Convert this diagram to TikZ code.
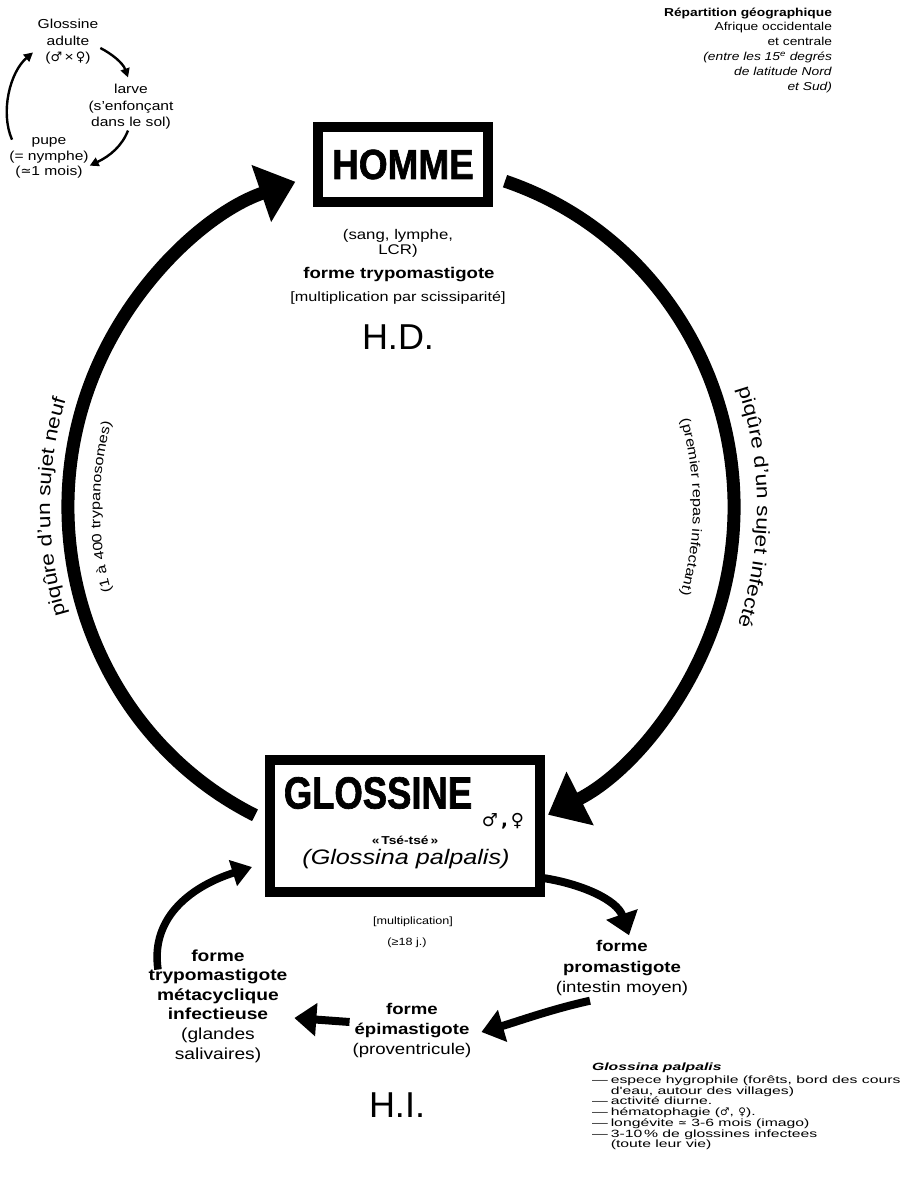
\documentclass[tikz,border=0pt]{standalone}
\usepackage{fontspec}
\usepackage{graphicx}
\setmainfont{Liberation Sans}[FakeStretch=1.2]
\newfontfamily\plainsans{Liberation Sans}
\newfontfamily\heavyfont{Liberation Sans}[FakeBold=1.5,FakeStretch=0.88]
\newfontfamily\listfont{Liberation Sans}[FakeStretch=1.5]
\newfontfamily\symfont{DejaVu Sans}
\usetikzlibrary{arrows.meta,decorations.text,calc}
\newcommand{\fsz}[2]{\fontsize{#1}{#2}\selectfont}
\tikzset{
  every node/.style={inner sep=0pt, outer sep=0pt},
  bigarrow/.style={line width=13pt, -{Triangle[length=36pt,width=58pt]}},
  midarrow/.style={line width=8pt, -{Triangle[length=22pt,width=32pt]}},
  uparrow/.style={line width=7.5pt, -{Triangle[length=20pt,width=26pt]}},
  smallarrow/.style={line width=2.4pt, -{Triangle[length=9pt,width=9pt]}},
  hostbox/.style={draw, line width=10pt},
  blocktext/.style={align=center},
  curvetext/.style={decorate, decoration={text along path, text align=center, text={#1}}}
}
\begin{document}
\begin{tikzpicture}[x=1pt,y=1pt]
\fill[white] (0,0) rectangle (905,-1191);
\useasboundingbox (0,0) rectangle (905,-1191);
\coordinate (cc) at (401,-507);

% ---- small life cycle (top left)
\node[blocktext, font=\fsz{13}{16.5}] (adult) at (68,-42) {Glossine\\adulte\\({\symfont ♂}\,×\,{\symfont ♀})};
\node[blocktext, font=\fsz{13}{16.5}] (larve) at (131,-107) {larve\\(s'enfonçant\\dans le sol)};
\node[blocktext, font=\fsz{13}{15.5}] (pupe) at (49,-158) {pupe\\(= nymphe)\\({\symfont ≃}1 mois)};
\draw[smallarrow] ([shift={(2pt,-6pt)}]adult.east) .. controls (112,-54) and (123,-63) .. ([shift={(-3pt,7pt)}]larve.north);
\draw[smallarrow] ([shift={(-3pt,-1pt)}]larve.south) .. controls (122,-146) and (110,-156) .. ([shift={(1pt,-28pt)}]pupe.north east);
\draw[smallarrow] ([shift={(-37pt,-2pt)}]pupe.north) .. controls (0,-112) and (10,-72) .. ([shift={(-35pt,-33pt)}]adult.north);

% ---- geographic note (top right)
\node[align=right, anchor=east, font=\fsz{11.5}{14.8}] (repart) at (832,-50)
  {\textbf{Répartition géographique}\\Afrique occidentale\\et centrale\\\textit{(entre les 15\textsuperscript{e} degrés}\\\textit{de latitude Nord}\\\textit{et Sud)}};

% ---- HOMME
\node[hostbox, minimum width=170pt, minimum height=75pt, font=\heavyfont\bfseries\fsz{42}{42}] (homme) at (403,-164.5) {HOMME};
\node[blocktext, font=\fsz{14}{15}] (hdmilieu) at (398,-243) {(sang, lymphe,\\LCR)};
\node[font=\bfseries\fsz{15.5}{16}] (hdforme) at (399,-275) {forme trypomastigote};
\node[font=\fsz{13.5}{14}] (hdmult) at (398,-298) {[multiplication par scissiparité]};
\node[font=\plainsans\fsz{36}{36}] (hd) at (398,-337) {H.D.};

% ---- GLOSSINE
\node[hostbox, minimum width=270pt, minimum height=132pt] (glossine) at (405,-826) {};
\node[font=\heavyfont\bfseries\fsz{45}{45}] (gtitle) at (378,-793) {\scalebox{0.92}[1]{GLOSSINE}};
\node[font=\symfont\bfseries\fsz{18}{18}] (gsex) at (503,-821) {♂\,,\,♀};
\node[font=\bfseries\fsz{11.5}{12}] (tsetse) at (405,-840) {«\,Tsé-tsé\,»};
\node[font=\itshape\fsz{21}{21}] (gpalp) at (406,-859) {(Glossina palpalis)};
\node[font=\fsz{10.5}{11}] (gmult) at (413,-922) {[multiplication]};
\node[font=\fsz{10.5}{11}] (gdur) at (407,-943) {(≥18 j.)};

% ---- forms in the vector
\node[blocktext, font=\fsz{16}{19.6}] (meta) at (218,-1006)
  {\textbf{forme}\\\textbf{trypomastigote}\\\textbf{métacyclique}\\\textbf{infectieuse}\\(glandes\\salivaires)};
\node[blocktext, font=\fsz{15.5}{20}] (epi) at (412,-1030)
  {\textbf{forme}\\\textbf{épimastigote}\\(proventricule)};
\node[blocktext, font=\fsz{15.5}{20.5}] (prom) at (622,-968)
  {\textbf{forme}\\\textbf{promastigote}\\(intestin moyen)};
\node[font=\plainsans\fsz{36}{36}] (hi) at (397,-1105) {H.I.};

% ---- notes (bottom right)
\node[anchor=north west, font=\listfont\fsz{10.5}{10.3}] (notes) at (592,-1063)
  {\begin{tabular}{@{}l@{\hspace{3pt}}l@{}}
   \multicolumn{2}{@{}l}{\bfseries\itshape Glossina palpalis}\\[2pt]
   — & espece hygrophile (forêts, bord des cours\\
     & d'eau, autour des villages)\\
   — & activité diurne.\\
   — & hématophagie ({\symfont ♂}, {\symfont ♀}).\\
   — & longévite {\symfont ≃} 3-6 mois (imago)\\
   — & 3-10\,\% de glossines infectees\\
     & (toute leur vie)
  \end{tabular}};

% ---- main cycle arcs
\coordinate (L0) at ($(cc)+(244:333pt and 343pt)$);
\coordinate (R0) at ($(cc)+(71.8:333pt and 343pt)$);
\draw[bigarrow] (L0) arc[start angle=244, end angle=108.5, x radius=333pt, y radius=343pt];
\draw[bigarrow] (R0) arc[start angle=71.8, end angle=-63.8, x radius=333pt, y radius=343pt];

% ---- curved labels
\path[curvetext={|\fsz{19}{19}|piqûre d'un sujet neuf}]
  ($(cc)+(215:351pt and 361pt)$) arc[start angle=215, end angle=145, x radius=351pt, y radius=361pt];
\path[curvetext={|\fsz{13.5}{14}|(1 à 400 trypanosomes)}]
  ($(cc)+(215:301pt and 311pt)$) arc[start angle=215, end angle=145, x radius=301pt, y radius=311pt];
\path[curvetext={|\fsz{19}{19}|piqûre d'un sujet infecté}]
  ($(cc)+(35:356pt and 366pt)$) arc[start angle=35, end angle=-35, x radius=356pt, y radius=366pt];
\path[curvetext={|\fsz{13.5}{14}|(premier repas infectant)}]
  ($(cc)+(35:292pt and 302pt)$) arc[start angle=35, end angle=-35, x radius=292pt, y radius=302pt];

% ---- cycle in the vector
\draw[midarrow] ([shift={(3pt,14pt)}]glossine.south east) .. controls (582,-884) and (617,-900) .. ([shift={(7pt,5pt)}]prom.north);
\draw[midarrow] ([shift={(-32pt,-5pt)}]prom.south) .. controls (552,-1009) and (516,-1022) .. ([shift={(10pt,-2pt)}]epi.east);
\draw[midarrow] ([shift={(-3pt,8pt)}]epi.west) -- ([shift={(7pt,-12pt)}]meta.east);
\draw[uparrow] ([shift={(-60pt,-20pt)}]meta.north) .. controls (150,-915) and (195,-885) .. ([shift={(-18pt,-41pt)}]glossine.west);
\end{tikzpicture}
\end{document}
